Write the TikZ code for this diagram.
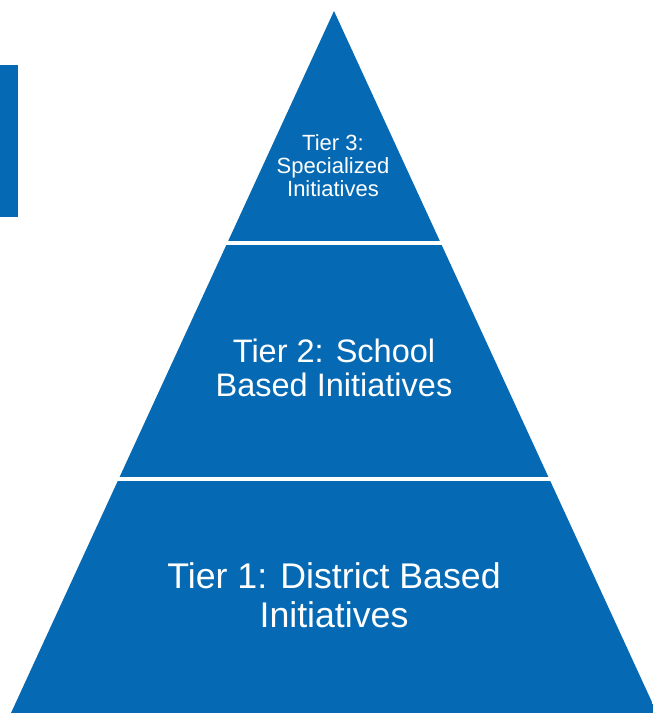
\documentclass[tikz,border=0pt]{standalone}
\usepackage{fontspec}
\setmainfont{Liberation Sans}
\definecolor{tierblue}{RGB}{5,106,179}
\begin{document}
\begin{tikzpicture}[x=1pt,y=-1pt,
  band/.style={fill=tierblue,draw=none},
  tiertext/.style={text=white,align=center,inner sep=0pt,anchor=base}]
\useasboundingbox (0,0) rectangle (653,715);
\fill[white] (0,0) rectangle (653,715);
% left side bar
\fill[tierblue] (0,65) rectangle (18,217);
% pyramid bands
\begin{scope}
  \clip (334,11) -- (11,713) -- (657,713) -- cycle;
  \fill[band] (0,0) rectangle (660,241);
  \fill[band] (0,245) rectangle (660,477);
  \fill[band] (0,481) rectangle (660,713);
\end{scope}
\node[tiertext,font=\fontsize{22}{23}\selectfont] (t3) at (333,196) {Tier 3:\\Specialized\\Initiatives};
\node[tiertext,font=\fontsize{32.5}{33.5}\selectfont] (t2) at (334,396) {Tier 2: School\\Based Initiatives};
\node[tiertext,font=\fontsize{35.7}{38.5}\selectfont] (t1) at (334,627) {Tier 1: District Based\\Initiatives};
\end{tikzpicture}
\end{document}
